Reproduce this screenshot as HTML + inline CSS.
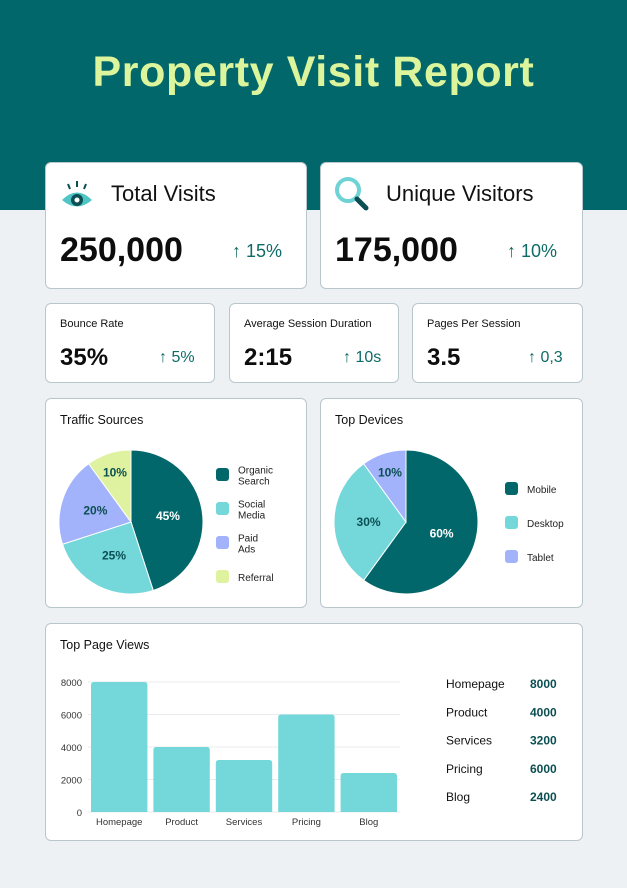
<!DOCTYPE html>
<html><head><meta charset="utf-8"><style>
*{margin:0;padding:0;box-sizing:border-box}
body{width:627px;height:888px;background:#edf1f4;font-family:"Liberation Sans",sans-serif;position:relative;overflow:hidden}
.hdr{position:absolute;left:0;top:0;width:627px;height:210px;background:#02676a}
.title{position:absolute;left:0;top:48px;width:627px;text-align:center;color:#dcf59c;font-size:43px;font-weight:bold;letter-spacing:0.6px}
.card{position:absolute;background:#fff;border:1px solid #b9c7cc;border-radius:6px}
.t{position:absolute;color:#111;font-size:11px}
.big{position:absolute;color:#0d0d0d;font-weight:bold}
.ch{position:absolute;color:#0e6b66}
</style></head><body>
<div class="hdr"></div>
<div class="title">Property Visit Report</div>

<div class="card" style="left:45px;top:162px;width:262px;height:127px">
<svg style="position:absolute;left:14px;top:16px" width="34" height="32">
<path d="M2 21 Q17 6 32 21 Q17 34 2 21Z" fill="#4fc5c6"/><circle cx="17" cy="21" r="6" fill="#0b4f52"/><circle cx="17" cy="21" r="2.5" fill="#fff"/>
<line x1="17" y1="2" x2="17" y2="8" stroke="#0b4f52" stroke-width="2"/><line x1="8" y1="5" x2="10" y2="10" stroke="#0b4f52" stroke-width="2"/><line x1="26" y1="5" x2="24" y2="10" stroke="#0b4f52" stroke-width="2"/></svg>
<div class="t" style="left:65px;top:18px;font-size:22px">Total Visits</div>
<div class="big" style="left:14px;top:68px;font-size:34px">250,000</div>
<div class="ch" style="left:186px;top:78px;font-size:18px">↑ 15%</div>
</div>
<div class="card" style="left:320px;top:162px;width:263px;height:127px">
<svg style="position:absolute;left:12px;top:12px" width="40" height="40">
<circle cx="15" cy="15" r="11" fill="none" stroke="#6fd3d6" stroke-width="4"/><line x1="24" y1="24" x2="33" y2="33" stroke="#0b4f52" stroke-width="5" stroke-linecap="round"/></svg>
<div class="t" style="left:65px;top:18px;font-size:22px">Unique Visitors</div>
<div class="big" style="left:14px;top:68px;font-size:34px">175,000</div>
<div class="ch" style="left:186px;top:78px;font-size:18px">↑ 10%</div>
</div>

<div class="card" style="left:45px;top:303px;width:170px;height:80px">
<div class="t" style="left:14px;top:14px">Bounce Rate</div>
<div class="big" style="left:14px;top:40px;font-size:24px">35%</div>
<div class="ch" style="left:113px;top:45px;font-size:16px">↑ 5%</div>
</div>
<div class="card" style="left:229px;top:303px;width:170px;height:80px">
<div class="t" style="left:14px;top:14px">Average Session Duration</div>
<div class="big" style="left:14px;top:40px;font-size:24px">2:15</div>
<div class="ch" style="left:113px;top:45px;font-size:16px">↑ 10s</div>
</div>
<div class="card" style="left:412px;top:303px;width:171px;height:80px">
<div class="t" style="left:14px;top:14px">Pages Per Session</div>
<div class="big" style="left:14px;top:40px;font-size:24px">3.5</div>
<div class="ch" style="left:115px;top:45px;font-size:16px">↑ 0,3</div>
</div>

<div class="card" style="left:45px;top:398px;width:262px;height:210px">
<div class="t" style="left:14px;top:14px;font-size:12.5px">Traffic Sources</div></div>
<div class="card" style="left:320px;top:398px;width:263px;height:210px">
<div class="t" style="left:14px;top:14px;font-size:12.5px">Top Devices</div></div>
<div class="card" style="left:45px;top:623px;width:538px;height:218px">
<div class="t" style="left:14px;top:14px;font-size:12.5px">Top Page Views</div></div>

<svg id="ov" style="position:absolute;left:0;top:0" width="627" height="888"></svg>
<script>
const trafficLabels=["Organic Search","Social Media","Paid Ads","Referral"];
const trafficValues=[45,25,20,10];
const deviceLabels=["Mobile","Desktop","Tablet"];
const deviceValues=[60,30,10];
const pageCategories=["Homepage","Product","Services","Pricing","Blog"];
const pageValues=[8000,4000,3200,6000,2400];
const yTicks=[0,2000,4000,6000,8000];

const NS="http://www.w3.org/2000/svg";const svg=document.getElementById('ov');
function mk(t,a,txt){const e=document.createElementNS(NS,t);for(const k in a)e.setAttribute(k,a[k]);if(txt!==undefined)e.textContent=txt;svg.appendChild(e);return e;}
const F='"Liberation Sans",sans-serif';
function pie(cx,cy,r,vals,labels,colors,tcols,name,lx,ly,lstep){
  const tot=vals.reduce((a,b)=>a+b,0);let a0=-Math.PI/2;
  vals.forEach((v,i)=>{const a1=a0+v/tot*2*Math.PI;
    const x0=cx+r*Math.cos(a0),y0=cy+r*Math.sin(a0),x1=cx+r*Math.cos(a1),y1=cy+r*Math.sin(a1);
    const p=mk('path',{d:`M${cx} ${cy}L${x0} ${y0}A${r} ${r} 0 ${a1-a0>Math.PI?1:0} 1 ${x1} ${y1}Z`,fill:colors[i],stroke:'#fff','stroke-width':1});
    
    
    const am=(a0+a1)/2,rr=r*(v<=10?0.72:0.52);
    const t=mk('text',{x:cx+rr*Math.cos(am),y:cy+rr*Math.sin(am)+4,'text-anchor':'middle','font-family':F,'font-size':12,'font-weight':'bold',fill:tcols[i]},v+'%');
    
    
    a0=a1;
    const sy=ly+i*lstep;
    const s=mk('rect',{x:lx,y:sy-7,width:13,height:13,rx:3,fill:colors[i]});
    
    
    const w=labels[i].split(' ');
    w.forEach((ww,j)=>{const lt=mk('text',{x:lx+22,y:sy+4+(j-(w.length-1)/2)*11,'font-family':F,'font-size':10,fill:'#222'},ww);
      
      });
  });
}
pie(131,522,72,trafficValues,trafficLabels,['#02676a','#74d7da','#a2b2fb','#dff2a0'],['#fff','#0b4f52','#0b4f52','#0b4f52'],'traffic',216,475,34);
pie(406,522,72,deviceValues,deviceLabels,['#02676a','#74d7da','#a2b2fb'],['#fff','#0b4f52','#0b4f52'],'devices',505,489,34);

const x0=88,x1=400,yb=812,yt=682,ymax=8000;
const y=v=>yb-(v/ymax)*(yb-yt);
const step=(x1-x0)/pageCategories.length;
yTicks.forEach(t=>{const l=mk('line',{x1:x0,x2:x1,y1:y(t),y2:y(t),stroke:'#e8ecee','stroke-width':1});
  
  
  const tx=mk('text',{x:82,y:y(t)+4,'text-anchor':'end','font-family':F,'font-size':9.5,fill:'#333'},t);
  
  });
pageCategories.forEach((c,i)=>{const bx=x0+i*step+3,bw=step-6;
  const b=mk('path',{d:`M${bx} ${yb}V${y(pageValues[i])+3}Q${bx} ${y(pageValues[i])} ${bx+3} ${y(pageValues[i])}H${bx+bw-3}Q${bx+bw} ${y(pageValues[i])} ${bx+bw} ${y(pageValues[i])+3}V${yb}Z`,fill:'#74d7da'});
  
  
  const lt=mk('text',{x:bx+bw/2,y:825,'text-anchor':'middle','font-family':F,'font-size':9.5,fill:'#333'},c);
  
  
  const ty=688+i*28.3;
  const n=mk('text',{x:446,y:ty,'font-family':F,'font-size':12,fill:'#111'},c);
  
  
  const v=mk('text',{x:530,y:ty,'font-family':F,'font-size':12,'font-weight':'bold',fill:'#0b4f52'},pageValues[i]);
  
  
});
</script>
</body></html>
